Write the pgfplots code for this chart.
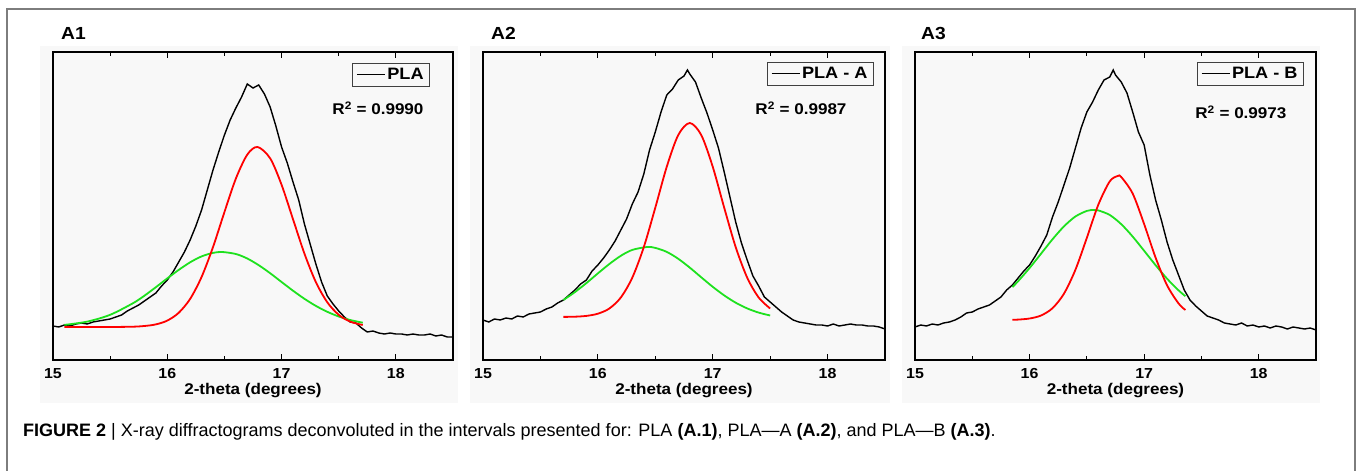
\documentclass[border=0pt]{standalone}
\usepackage{fontspec}
\setmainfont{Liberation Sans}
\newfontfamily\chartfont[FakeStretch=1.1]{Liberation Sans}
\usepackage{pgfplots}
\pgfplotsset{compat=1.18}

\definecolor{fitred}{RGB}{255,0,0}
\definecolor{fitgreen}{RGB}{30,225,30}
\definecolor{panelbg}{RGB}{248,248,248}
\definecolor{framegray}{RGB}{125,125,125}

\pgfplotsset{
  xrdpanel/.style={
    anchor=south west, scale only axis, height=308pt,
    xmin=15, xmax=18.5, ymin=0, ymax=308,
    xtick={15,16,17,18}, xticklabels={15,16,17,18},
    minor xtick={15.5,16.5,17.5},
    ytick=\empty,
    tick align=inside,
    major tick length=6pt, minor tick length=4pt,
    every tick/.style={black, line width=1.2pt},
    axis line style={line width=1.4pt},
    axis background/.style={fill=panelbg},
    xticklabel style={font={\chartfont\fontsize{14.5}{16}\selectfont\bfseries}, yshift=-5pt},
    xlabel={2-theta (degrees)},
    every axis x label/.style={at={(axis description cs:0.5,0)}, anchor=center, yshift=-31pt,
      font={\chartfont\fontsize{15.5}{17}\selectfont\bfseries}},
    legend style={draw=black!75, line width=0.8pt, fill=panelbg, anchor=north east,
      font={\chartfont\fontsize{16.5}{18}\selectfont\bfseries}, inner xsep=4pt, inner ysep=3pt},
    legend image code/.code={\draw[black, line width=1pt] (0pt,0pt) -- (28pt,0pt);},
  },
  sig/.style={black, line width=1.4pt, mark=none},
  fit/.style={line width=1.8pt, mark=none, smooth},
}
\tikzset{rsq/.style={anchor=east, font={\chartfont\fontsize{15.5}{17}\selectfont\bfseries}}}

\begin{document}
\begin{tikzpicture}[x=1pt, y=1pt]
\useasboundingbox (0,0) rectangle (1357,471);
\draw[framegray, line width=1.3pt] (7,0) -- (7,462) -- (1355,462) -- (1355,0);
\fill[panelbg] (40,68) rectangle (458,425);
\fill[panelbg] (470,68) rectangle (890,425);
\fill[panelbg] (902,68) rectangle (1320,425);

% ---------- A1 : PLA ----------
\begin{axis}[xrdpanel, at={(53pt,111pt)}, width=400pt,
  legend style={at={(0.9425,0.964)}}]
\addplot[sig] coordinates {
(15.00,34)(15.05,33)(15.10,35)(15.15,34)(15.20,36)(15.25,37)(15.30,36)(15.35,38)
(15.40,39)(15.45,40)(15.50,41)(15.55,43)(15.60,45)(15.65,49)(15.70,52)(15.75,55)
(15.80,59)(15.85,63)(15.90,67)(15.95,74)(16.00,80)(16.05,88)(16.10,98)(16.15,108)
(16.20,120)(16.25,134)(16.30,150)(16.35,170)(16.40,190)(16.45,208)(16.50,225)
(16.55,240)(16.60,252)(16.65,263)(16.70,276)(16.75,272)(16.80,275)(16.85,266)
(16.90,253)(16.95,234)(17.00,213)(17.05,197)(17.10,178)(17.15,160)(17.20,136)
(17.25,116)(17.30,96)(17.35,78)(17.40,64)(17.45,56)(17.50,49)(17.55,43)(17.60,38)
(17.65,37)(17.70,32)(17.75,28)(17.80,29)(17.85,27)(17.90,26)(17.95,27)(18.00,26)
(18.05,26)(18.10,25)(18.15,26)(18.20,25)(18.25,25)(18.30,26)(18.35,24)(18.40,25)
(18.45,23)(18.50,23)};
\addlegendentry{PLA}
\addplot[fit, fitgreen, forget plot] coordinates {
(15.1,35.1)(15.3,38.4)(15.5,45.2)(15.7,56.8)(15.8,64.3)(15.9,72.8)(16.0,81.6)
(16.1,90.1)(16.2,97.7)(16.3,103.6)(16.4,107.1)(16.48,108)(16.6,106)(16.7,101.5)
(16.8,94.8)(16.9,86.8)(17.0,78)(17.1,69.3)(17.2,61.2)(17.3,54.1)(17.4,48.2)
(17.5,43.5)(17.6,40)(17.71,37.3)};
\addplot[fit, fitred, forget plot] coordinates {
(15.1,33)(15.3,33)(15.5,33)(15.7,33.3)(15.8,34)(15.9,35.6)(16.0,39.4)(16.1,47.2)
(16.2,61.1)(16.3,83)(16.4,112.9)(16.5,147.9)(16.6,181.4)(16.7,205.4)(16.79,213)
(16.9,201.7)(17.0,175.2)(17.1,140.8)(17.2,106.4)(17.3,77.9)(17.4,57.7)(17.5,45.2)
(17.6,38.4)(17.71,35)};
\node[rsq] at (rel axis cs:0.935,0.818) {R\textsuperscript{2} = 0.9990};
\end{axis}

% ---------- A2 : PLA - A ----------
\begin{axis}[xrdpanel, at={(483pt,111pt)}, width=402pt,
  legend style={at={(0.9726,0.9675)}}]
\addplot[sig] coordinates {
(15.00,40)(15.05,38)(15.10,41)(15.15,40)(15.20,42)(15.25,41)(15.30,44)(15.35,43)
(15.40,46)(15.45,47)(15.50,48)(15.55,51)(15.60,53)(15.65,57)(15.70,60)(15.75,65)
(15.80,70)(15.85,76)(15.90,80)(15.95,89)(16.00,95)(16.05,102)(16.10,110)(16.15,119)
(16.20,130)(16.25,141)(16.30,156)(16.35,168)(16.40,186)(16.45,210)(16.50,228)
(16.55,248)(16.60,265)(16.65,271)(16.70,280)(16.75,284)(16.78,290)(16.80,286)
(16.85,278)(16.90,262)(16.95,247)(17.00,230)(17.05,212)(17.10,188)(17.15,163)
(17.20,138)(17.25,117)(17.30,100)(17.35,84)(17.40,74)(17.45,63)(17.50,58)(17.55,53)
(17.60,48)(17.65,44)(17.70,40)(17.75,38)(17.80,37)(17.85,36)(17.90,35)(17.95,35)
(18.00,34)(18.05,36)(18.10,34)(18.15,35)(18.20,36)(18.25,35)(18.30,35)(18.35,34)
(18.40,34)(18.45,33)(18.50,31)};
\addlegendentry{PLA - A}
\addplot[fit, fitgreen, forget plot] coordinates {
(15.7,60)(15.8,67.9)(15.9,76.9)(16.0,86.6)(16.1,96)(16.2,104.2)(16.3,110.1)
(16.43,113)(16.5,112.1)(16.6,108.1)(16.7,101.2)(16.8,92.4)(16.9,82.7)(17.0,73.2)
(17.1,64.6)(17.2,57.3)(17.3,51.6)(17.4,47.4)(17.5,44.5)};
\addplot[fit, fitred, forget plot] coordinates {
(15.7,43.1)(15.8,43.3)(15.9,44.1)(16.0,46.3)(16.1,51.5)(16.2,62.5)(16.3,82.4)
(16.4,112.9)(16.5,152.3)(16.6,193.3)(16.7,225)(16.8,237)(16.9,225)(17.0,193.3)
(17.1,152.3)(17.2,112.9)(17.3,82.4)(17.4,62.5)(17.5,51.5)};
\node[rsq] at (rel axis cs:0.913,0.818) {R\textsuperscript{2} = 0.9987};
\end{axis}

% ---------- A3 : PLA - B ----------
\begin{axis}[xrdpanel, at={(915pt,111pt)}, width=401pt,
  legend style={at={(0.970,0.9675)}}]
\addplot[sig] coordinates {
(15.00,33)(15.05,35)(15.10,34)(15.15,36)(15.20,35)(15.25,37)(15.30,38)(15.35,40)
(15.40,43)(15.45,47)(15.50,48)(15.55,51)(15.60,53)(15.65,55)(15.70,59)(15.75,63)
(15.80,70)(15.85,75)(15.90,82)(15.95,89)(16.00,95)(16.05,104)(16.10,114)(16.15,125)
(16.20,143)(16.25,158)(16.30,175)(16.35,192)(16.40,212)(16.45,232)(16.50,248)
(16.55,258)(16.60,270)(16.65,280)(16.70,283)(16.73,290)(16.75,285)(16.80,278)
(16.85,267)(16.90,248)(16.95,228)(17.00,215)(17.05,185)(17.10,160)(17.15,140)
(17.20,118)(17.25,100)(17.30,85)(17.35,70)(17.40,60)(17.45,54)(17.50,49)(17.55,44)
(17.60,42)(17.65,40)(17.70,37)(17.75,36)(17.80,35)(17.85,37)(17.90,34)(17.95,35)
(18.00,33)(18.05,34)(18.10,32)(18.15,34)(18.20,33)(18.25,31)(18.30,33)(18.35,32)
(18.40,31)(18.45,32)(18.50,30)};
\addlegendentry{PLA - B}
\addplot[fit, fitgreen, forget plot] coordinates {
(15.85,72.9)(15.9,78.8)(16.0,92)(16.1,106.3)(16.2,120.7)(16.3,133.6)(16.4,143.5)
(16.5,149.1)(16.56,150)(16.6,149.6)(16.7,145)(16.8,135.8)(16.9,123.4)(17.0,109.2)
(17.1,94.8)(17.2,81.3)(17.3,69.7)(17.36,63.8)};
\addplot[fit, fitred, forget plot] coordinates {
(15.85,40.2)(15.9,40.4)(16.0,41.5)(16.1,44.5)(16.2,51.8)(16.3,66.3)(16.4,90.2)
(16.5,122.2)(16.6,155.3)(16.7,178.7)(16.77,184)(16.8,183)(16.9,166.4)(17.0,135.9)
(17.1,102.3)(17.2,74.7)(17.3,56.6)(17.36,50)};
\node[rsq] at (rel axis cs:0.935,0.805) {R\textsuperscript{2} = 0.9973};
\end{axis}

\begin{scope}[font={\chartfont\fontsize{17.5}{19}\selectfont\bfseries}]
\node[anchor=west, inner sep=0pt] at (61,438) {A1};
\node[anchor=west, inner sep=0pt] at (491,438) {A2};
\node[anchor=west, inner sep=0pt] at (921,438) {A3};
\end{scope}

\node[anchor=west, inner sep=0pt, font={\fontsize{18}{20}\selectfont}] at (23,39)
  {\textbf{FIGURE 2} | X-ray diffractograms deconvoluted in the intervals presented for: PLA \textbf{(A.1)}, PLA—A \textbf{(A.2)}, and PLA—B \textbf{(A.3)}.};
\end{tikzpicture}
\end{document}
